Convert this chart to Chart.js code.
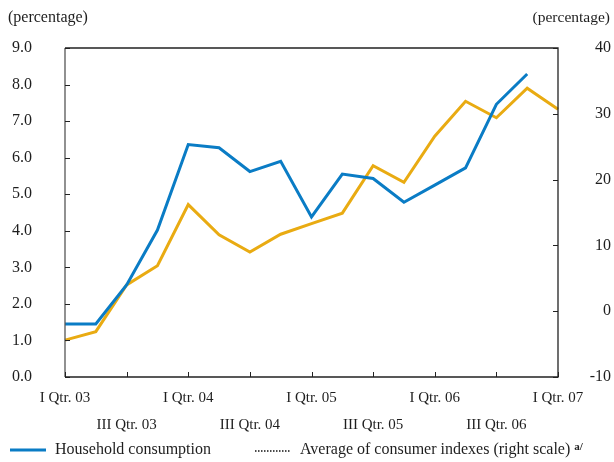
<!DOCTYPE html>
<html>
<head>
<meta charset="utf-8">
<script src="https://cdn.jsdelivr.net/npm/chart.js@4/dist/chart.umd.min.js"></script>
<style>
  html, body { margin: 0; padding: 0; background: #fff; }
  #wrap { position: relative; width: 614px; height: 462px; }
  canvas { display: block; }
</style>
</head>
<body>
<div id="wrap"><canvas id="c" width="614" height="462"></canvas></div>
<script>
// ---- Data ----
const quarters = [
  "I Qtr. 03", "II Qtr. 03", "III Qtr. 03", "IV Qtr. 03",
  "I Qtr. 04", "II Qtr. 04", "III Qtr. 04", "IV Qtr. 04",
  "I Qtr. 05", "II Qtr. 05", "III Qtr. 05", "IV Qtr. 05",
  "I Qtr. 06", "II Qtr. 06", "III Qtr. 06", "IV Qtr. 06",
  "I Qtr. 07"
];
const householdConsumption = [1.45, 1.45, 2.52, 4.02, 6.36, 6.27, 5.62, 5.90, 4.38, 5.55, 5.43, 4.78, 5.25, 5.72, 7.46, 8.29, null];
const consumerIndexesAvg = [-4.4, -3.1, 4.0, 6.9, 16.2, 11.6, 9.0, 11.7, 13.3, 14.9, 22.1, 19.6, 26.6, 31.9, 29.4, 33.9, 30.7];
const leftTicks = [0, 1, 2, 3, 4, 5, 6, 7, 8, 9];
const rightTicks = [-10, 0, 10, 20, 30, 40];
const axisUnit = "(percentage)";
const seriesNames = ["Household consumption", "Average of consumer indexes (right scale)"];
const footnoteMark = "a/";

const BLUE = "#0a7cc5";
const GOLD = "#e9ab12";
const TEXT = "#1e1e1e";
const SERIF = "'Liberation Serif', 'Times New Roman', serif";

const framePlugin = {
  id: "frame",
  afterDraw(chart) {
    const ctx = chart.ctx;
    const a = chart.chartArea;
    const xs = chart.scales.x, yl = chart.scales.yL, yr = chart.scales.yR;
    ctx.save();
    // frame
    ctx.lineWidth = 1.3;
    ctx.strokeStyle = "#222";
    ctx.beginPath();
    ctx.moveTo(a.left, a.top); ctx.lineTo(a.right, a.top);
    ctx.lineTo(a.right, a.bottom); ctx.lineTo(a.left, a.bottom);
    ctx.stroke();
    ctx.strokeStyle = "#555";
    ctx.beginPath();
    ctx.moveTo(a.left, a.top); ctx.lineTo(a.left, a.bottom);
    ctx.stroke();
    ctx.strokeStyle = "#222";
    ctx.lineWidth = 1;
    // inward ticks
    ctx.beginPath();
    for (let i = 0; i < quarters.length; i += 2) {
      const px = Math.round(xs.getPixelForValue(i)) + 0.5;
      ctx.moveTo(px, a.bottom); ctx.lineTo(px, a.bottom - 5);
    }
    leftTicks.forEach(v => {
      const py = Math.round(yl.getPixelForValue(v)) + 0.5;
      ctx.moveTo(a.left, py); ctx.lineTo(a.left + 5, py);
    });
    rightTicks.forEach(v => {
      const py = Math.round(yr.getPixelForValue(v)) + 0.5;
      ctx.moveTo(a.right, py); ctx.lineTo(a.right - 5, py);
    });
    ctx.stroke();
    // unit labels
    ctx.fillStyle = TEXT;
    ctx.textBaseline = "middle";
    ctx.font = "16px " + SERIF;
    ctx.textAlign = "left";
    ctx.fillText(axisUnit, 8, 18);
    ctx.font = "15.5px " + SERIF;
    ctx.textAlign = "right";
    ctx.fillText(axisUnit, 610, 18);
    // legend
    ctx.textAlign = "left";
    ctx.strokeStyle = BLUE;
    ctx.lineWidth = 3;
    ctx.beginPath(); ctx.moveTo(10, 450); ctx.lineTo(46, 450); ctx.stroke();
    ctx.font = "16px " + SERIF;
    ctx.fillText(seriesNames[0], 55, 450);
    ctx.strokeStyle = "#111";
    ctx.lineWidth = 1.5;
    ctx.setLineDash([1.5, 1.5]);
    ctx.beginPath(); ctx.moveTo(255, 451); ctx.lineTo(290, 451); ctx.stroke();
    ctx.setLineDash([]);
    ctx.fillText(seriesNames[1], 300, 450);
    const w = ctx.measureText(seriesNames[1]).width;
    ctx.font = "bold 11px " + SERIF;
    ctx.fillText(footnoteMark, 300 + w + 4, 447);
    ctx.restore();
  }
};

new Chart(document.getElementById("c"), {
  type: "line",
  data: {
    labels: quarters,
    datasets: [
      {
        label: seriesNames[0],
        data: householdConsumption,
        yAxisID: "yL",
        borderColor: BLUE,
        borderWidth: 3,
        pointRadius: 0,
        tension: 0,
        fill: false,
        spanGaps: false
      },
      {
        label: seriesNames[1],
        data: consumerIndexesAvg,
        yAxisID: "yR",
        borderColor: GOLD,
        borderWidth: 3,
        pointRadius: 0,
        tension: 0,
        fill: false
      }
    ]
  },
  options: {
    responsive: false,
    animation: false,
    devicePixelRatio: 1,
    layout: { padding: { top: 48, left: 0, right: 3, bottom: 15 } },
    plugins: { legend: { display: false }, tooltip: { enabled: false }, title: { display: false } },
    scales: {
      x: {
        type: "category",
        offset: false,
        grid: { display: false, drawTicks: false },
        border: { display: false },
        ticks: {
          autoSkip: false,
          maxRotation: 0,
          minRotation: 0,
          padding: 7.5,
          color: TEXT,
          font: { family: SERIF, size: 15, lineHeight: 1.8 },
          callback: function (v, i) {
            const q = quarters[i];
            if (i % 4 === 0) return q;
            if (i % 4 === 2) return ["", q];
            return "";
          }
        },
        afterFit: s => { s.height = 70; }
      },
      yL: {
        position: "left",
        min: 0, max: 9,
        grid: { display: false, drawTicks: false },
        border: { display: false },
        ticks: {
          stepSize: 1,
          padding: 33,
          color: TEXT,
          font: { family: SERIF, size: 16 },
          callback: v => Number(v).toFixed(1)
        },
        afterFit: s => { s.width = 65; }
      },
      yR: {
        position: "right",
        min: -10, max: 40,
        grid: { display: false, drawTicks: false },
        border: { display: false },
        ticks: {
          stepSize: 10,
          padding: 20,
          crossAlign: "far",
          color: TEXT,
          font: { family: SERIF, size: 16 },
          callback: v => String(v)
        },
        afterFit: s => { s.width = 53; }
      }
    }
  },
  plugins: [framePlugin]
});
</script>
</body>
</html>
